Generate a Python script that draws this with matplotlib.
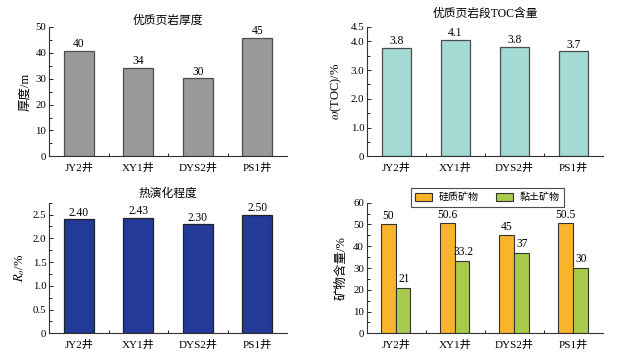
import matplotlib
matplotlib.use("Agg")
import matplotlib.pyplot as plt
import numpy as np
from matplotlib.ticker import MultipleLocator, FixedLocator

plt.rcParams['font.family'] = ['Liberation Serif', 'Noto Sans CJK SC']
plt.rcParams['mathtext.fontset'] = 'stix'
plt.rcParams['font.size'] = 7.5

wells = ["JY2井", "XY1井", "DYS2井", "PS1井"]

thickness = [40.8, 34.1, 30.1, 45.8]
thickness_labels = ["40", "34", "30", "45"]

toc = [3.76, 4.05, 3.81, 3.65]
toc_labels = ["3.8", "4.1", "3.8", "3.7"]

ro = [2.40, 2.43, 2.30, 2.50]
ro_labels = ["2.40", "2.43", "2.30", "2.50"]

siliceous = [50, 50.6, 45, 50.5]
clay = [21, 33.2, 37, 30]
mineral_names = ["硅质矿物", "黏土矿物"]

W, H = 618, 356
fig = plt.figure(figsize=(W / 100, H / 100), dpi=100)


def make_ax(l, r, b, t):
    return fig.add_axes([l / W, (H - b) / H, (r - l) / W, (b - t) / H])


def style(ax, ymax, major, minor, fmt):
    ax.spines['top'].set_visible(False)
    ax.spines['right'].set_visible(False)
    for s in ('left', 'bottom'):
        ax.spines[s].set_linewidth(0.8)
        ax.spines[s].set_color('#333333')
    ax.set_xlim(-0.5, 3.5)
    ax.set_ylim(0, ymax)
    ax.set_xticks(range(len(wells)))
    ax.set_xticklabels(wells, fontsize=8)
    ax.xaxis.set_minor_locator(FixedLocator([0.5, 1.5, 2.5]))
    ax.tick_params(axis='x', which='major', length=0, pad=5)
    ax.tick_params(axis='x', which='minor', direction='in', length=2.5, width=0.6)
    ax.yaxis.set_major_locator(FixedLocator(major))
    ax.set_yticklabels(fmt)
    ax.yaxis.set_minor_locator(MultipleLocator(minor))
    ax.tick_params(axis='y', which='major', direction='in', length=3, width=0.6, pad=2, labelsize=7.8)
    ax.tick_params(axis='y', which='minor', direction='in', length=2, width=0.6)


def label_bars(ax, xs, heights, labels, dy):
    for x, h, lab in zip(xs, heights, labels):
        ax.text(x, h + dy, lab, ha='center', va='bottom', fontsize=8.3)


x = np.arange(len(wells))

# Panel 1
ax1 = make_ax(49, 287, 156.3, 27)
ax1.bar(x, thickness, width=0.5, color='#999999', edgecolor='#4d4d4d', linewidth=0.9)
style(ax1, 50, [0, 10, 20, 30, 40, 50], 5, ["0", "10", "20", "30", "40", "50"])
label_bars(ax1, x, thickness, thickness_labels, 0.3)
ax1.set_title("优质页岩厚度", fontsize=8.5, pad=1)
ax1.set_ylabel("厚度/m", fontsize=9, labelpad=3)

# Panel 2
ax2 = make_ax(367, 603, 156.3, 27)
ax2.bar(x, toc, width=0.5, color='#a3dad4', edgecolor='#4d4d4d', linewidth=0.9)
style(ax2, 4.5, [0, 1, 2, 3, 4, 4.5], 0.5, ["0", "1.0", "2.0", "3.0", "4.0", "4.5"])
label_bars(ax2, x, toc, toc_labels, 0.03)
ax2.set_title("优质页岩段TOC含量", fontsize=8.5, pad=7)
ax2.set_ylabel("$\\omega$(TOC)/%", fontsize=9, labelpad=5)

# Panel 3
ax3 = make_ax(49, 287, 333.3, 202.7)
ax3.bar(x, ro, width=0.5, color='#233a98', edgecolor='#222222', linewidth=0.9)
style(ax3, 2.75, [0, 0.5, 1.0, 1.5, 2.0, 2.5], 0.25, ["0", "0.5", "1.0", "1.5", "2.0", "2.5"])
label_bars(ax3, x, ro, ro_labels, 0.01)
ax3.set_title("热演化程度", fontsize=8.5, pad=4)
ax3.set_ylabel("$R_o$/%", fontsize=9, labelpad=4)

# Panel 4
ax4 = make_ax(366.7, 603, 333.3, 202.7)
bw = 0.26
ax4.bar(x - bw, siliceous, width=bw, align='edge', color='#f8b42a', edgecolor='#333333', linewidth=0.8, label=mineral_names[0])
ax4.bar(x, clay, width=bw * 0.92, align='edge', color='#a9cb4c', edgecolor='#333333', linewidth=0.8, label=mineral_names[1])
style(ax4, 60, [0, 10, 20, 30, 40, 50, 60], 5, ["0", "10", "20", "30", "40", "50", "60"])
label_bars(ax4, x - bw / 2, siliceous, [f"{v:g}" for v in siliceous], 1.2)
label_bars(ax4, x + bw * 0.5, clay, [f"{v:g}" for v in clay], 1.2)
ax4.set_ylabel("矿物含量/%", fontsize=9, labelpad=4)
leg = ax4.legend(loc='upper left', bbox_to_anchor=(0.165, 1.15), ncol=2, fontsize=7.2,
                 frameon=True, fancybox=False, edgecolor='#222222', handlelength=1.7,
                 handleheight=0.9, columnspacing=1.8, borderpad=0.45, handletextpad=0.6)
leg.get_frame().set_linewidth(0.8)

fig.savefig("out.png", dpi=100, facecolor='white')
